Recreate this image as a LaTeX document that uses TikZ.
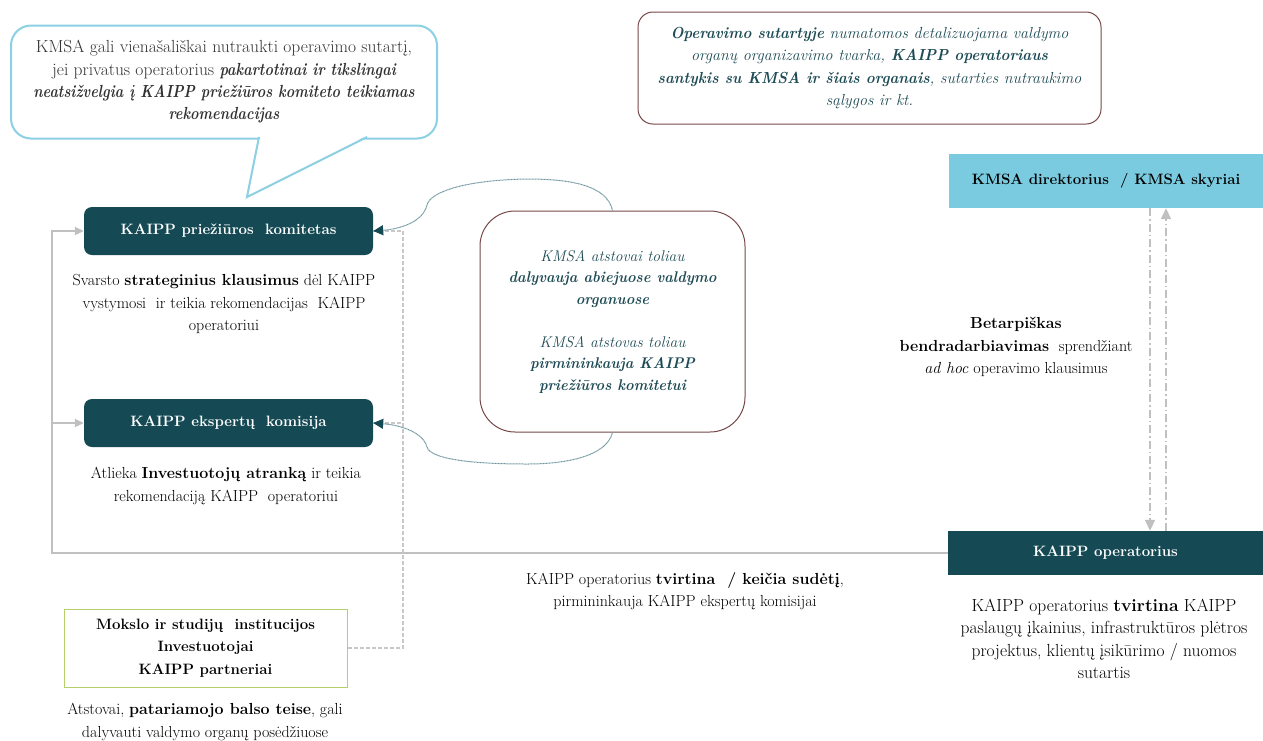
\documentclass[tikz,border=0pt]{standalone}
\usepackage{fontspec}
\usetikzlibrary{arrows.meta}
\definecolor{tealdark}{RGB}{21,74,85}
\definecolor{tealtext}{RGB}{30,75,85}
\definecolor{lightblue}{RGB}{122,203,224}
\definecolor{calloutblue}{RGB}{140,208,228}
\definecolor{brownline}{RGB}{118,72,72}
\definecolor{lgray}{RGB}{192,192,192}
\definecolor{dgray}{RGB}{200,200,200}
\definecolor{greenline}{RGB}{181,207,107}
\definecolor{curvecol}{RGB}{110,150,160}
\definecolor{calltext}{RGB}{50,50,50}
\newcommand\txtsz{\fontsize{15}{22.5}\selectfont}
\newcommand\dsz{\fontsize{16}{22.5}\selectfont}
\newcommand\bsz{\fontsize{17.5}{22.3}\selectfont}
\newcommand\bix[1]{\scalebox{0.82}[1]{\bfseries\itshape #1}}
\newcommand\bit[1]{\scalebox{0.94}[1]{\bfseries\itshape #1}}
\begin{document}
\begin{tikzpicture}[x=1pt,y=-1pt,
  darkbox/.style={fill=tealdark, text=white, inner sep=0pt, font=\txtsz\bfseries},
  desc/.style={align=center, inner sep=0pt, font=\dsz, text=black},
  roundbox/.style={draw=brownline, line width=1pt, align=center, inner sep=0pt, font=\dsz\itshape, text=tealtext},
  curveln/.style={draw=curvecol, line width=1pt, dash pattern=on 1pt off 0.5pt, -{Triangle[length=10pt,width=10pt,fill=tealdark,color=tealdark]}},
  solidgray/.style={draw=lgray, line width=2pt},
  garrow/.style={-{Triangle[length=9pt,width=8pt,color=lgray]}},
  dashgray/.style={draw=dgray, line width=1.2pt, dash pattern=on 4pt off 2pt},
  dashdot/.style={draw=lgray, line width=1.8pt, dash pattern=on 8pt off 3pt on 1.5pt off 3pt, -{Triangle[length=11pt,width=10pt,color=lgray]}}
]
\useasboundingbox (0,0) rectangle (1263,740);

% callout
\node[draw=calloutblue, line width=2pt, rounded corners=20pt, minimum width=426pt, minimum height=113pt, inner sep=0pt, align=center, font=\bsz, text=calltext] (callout) at (224,82)
{KMSA gali vienašališkai nutraukti operavimo sutartį,\\
jei privatus operatorius \bix{pakartotinai ir tikslingai}\\
\bix{neatsižvelgia į KAIPP priežiūros komiteto teikiamas}\\
\bix{rekomendacijas}};
\fill[white] (260,136) -- (247,196) -- (366,136) -- cycle;
\draw[calloutblue, line width=2pt, line join=miter] (259,137) -- (247,197) -- (367,137);

% top right box
\node[roundbox, rounded corners=15pt, minimum width=463pt, minimum height=112pt] (contract) at (869.5,68)
{\bit{Operavimo sutartyje} numatomos detalizuojama valdymo\\
organų organizavimo tvarka, \bit{KAIPP operatoriaus}\\
\bit{santykis su KMSA ir šiais organais}, sutarties nutraukimo\\
sąlygos ir kt.};

% KMSA direktorius
\node[fill=lightblue, inner sep=0pt, minimum width=314pt, minimum height=54pt, font=\txtsz\bfseries] (kd) at (1106,181) {KMSA direktorius ~/ KMSA skyriai};

% left dark boxes
\node[darkbox, rounded corners=8pt, minimum width=289pt, minimum height=48pt] (pc) at (228.5,231) {KAIPP priežiūros ~komitetas};
\node[desc] (pcd) at (224,304) {Svarsto \textbf{strateginius klausimus} dėl KAIPP\\vystymosi ~ir teikia rekomendacijas ~KAIPP\\operatoriui};

\node[darkbox, rounded corners=8pt, minimum width=289pt, minimum height=48pt] (ec) at (228.5,423) {KAIPP ekspertų ~komisija};
\node[desc] (ecd) at (226,486) {Atlieka \textbf{Investuotojų atranką} ir teikia\\rekomendaciją KAIPP ~operatoriui};

% middle box
\node[roundbox, font=\fontsize{15.5}{21.5}\selectfont\itshape, rounded corners=35pt, minimum width=265pt, minimum height=221pt] (mid) at (612.5,321.5)
{KMSA atstovai toliau\\
\bit{dalyvauja abiejuose valdymo}\\
\bit{organuose}\\[21.5pt]
KMSA atstovas toliau\\
\bit{pirmininkauja KAIPP}\\
\bit{priežiūros komitetui}};

% operator
\node[darkbox, minimum width=315pt, minimum height=44pt] (op) at (1105.5,553) {KAIPP operatorius};
\node[desc, font=\bsz] (opd) at (1104,639) {KAIPP operatorius \textbf{tvirtina} KAIPP\\paslaugų įkainius, infrastruktūros plėtros\\projektus, klientų įsikūrimo / nuomos\\sutartis};

% betarpiskas
\node[desc] (bet) at (1016,347) {\textbf{Betarpiškas}\\\textbf{bendradarbiavimas} ~sprendžiant\\\textit{ad hoc} operavimo klausimus};

% bottom middle text
\node[desc] (opt) at (685,591) {KAIPP operatorius \textbf{tvirtina ~/ keičia sudėtį},\\pirmininkauja KAIPP ekspertų komisijai};

% Mokslo box
\node[draw=greenline, line width=1pt, inner sep=0pt, minimum width=283pt, minimum height=78pt, align=center, font=\txtsz\bfseries] (mk) at (205.5,648)
{Mokslo ir studijų ~institucijos\\Investuotojai\\KAIPP partneriai};
\node[desc] (mkd) at (205,722) {Atstovai, \textbf{patariamojo balso teise}, gali\\dalyvauti valdymo organų posėdžiuose};

% connectors
\coordinate (lc) at (52,553);
\draw[solidgray, garrow] (op.west) -- (lc) |- (pc.west);
\draw[solidgray, garrow] (lc |- ec.west) -- (ec.west);

\coordinate (dv) at (403,648);
\draw[dashgray] (pc.east) -| (dv) -- (mk.east);
\draw[dashgray] (ec.east) -- (ec.east -| dv);

\draw[curveln] (mid.north) .. controls (607,185) and (570,179) .. (527,179) .. controls (465,180) and (430,192) .. (427,205) .. controls (423,222) and (400,229) .. (pc.east);
\draw[curveln] (mid.south) .. controls (607,455) and (570,464) .. (527,464) .. controls (465,464) and (430,458) .. (427,447) .. controls (423,432) and (400,425) .. (ec.east);

\draw[dashdot] ([xshift=44pt]kd.south) -- ([xshift=44.5pt]op.north);
\draw[dashdot] ([xshift=60.5pt]op.north) -- ([xshift=60pt]kd.south);
\end{tikzpicture}
\end{document}
